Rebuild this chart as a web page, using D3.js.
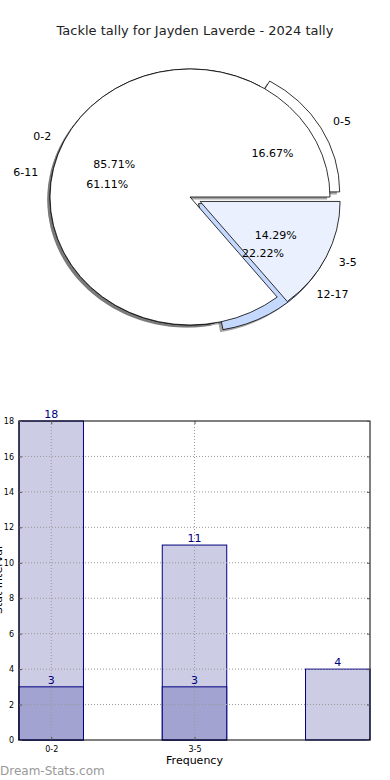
<!DOCTYPE html>
<html>
<head>
<meta charset="utf-8">
<script src="https://cdn.jsdelivr.net/npm/d3@7"></script>
<style>
  body { margin: 0; background: #fff; }
  svg { font-family: "DejaVu Sans", sans-serif; display: block; }
</style>
</head>
<body>
<div id="chart"></div>
<script>
// pie data (two overlaid pies)
var innerLabels = ['0-2', '3-5'];
var innerValues = [18, 3];
var innerExplode = [0, 0.08];
var innerColors = ['#ffffff', '#eaf0fe'];

var outerLabels = ['0-5', '6-11', '12-17'];
var outerValues = [3, 11, 4];
var outerExplode = [0.08, 0, 0.08];
var outerColors = ['#ffffff', '#ffffff', '#c5d8fd'];

// bar data
var barCategories = ['0-2', '3-5', ''];
var barLight = [18, 11, 4];
var barDark = [3, 3];
var yTicks = [0, 2, 4, 6, 8, 10, 12, 14, 16, 18];

var W = 390, H = 780;
var svg = d3.select('#chart').append('svg')
    .attr('width', W)
    .attr('height', H);

svg.append('text')
    .attr('x', 195).attr('y', 35)
    .attr('text-anchor', 'middle')
    .attr('font-size', 13)
    .attr('fill', '#222')
    .text('Tackle tally for Jayden Laverde - 2024 tally');

// ---- pie ----
var cx = 190, cy = 197, rx = 140, ry = 128;

// counterclockwise from east, like matplotlib
var pie = d3.pie().sort(null)
    .startAngle(Math.PI / 2)
    .endAngle(Math.PI / 2 - Math.PI * 2);

var arc = d3.arc().innerRadius(0).outerRadius(1);

function makeSlices(values, labels, explode, colors) {
    var total = d3.sum(values);
    return pie(values).map(function(d, i) {
        var mid = (d.startAngle + d.endAngle) / 2;
        return {
            d: d,
            label: labels[i],
            pct: (values[i] / total * 100).toFixed(2) + '%',
            ex: explode[i],
            color: colors[i],
            ux: Math.sin(mid),
            uy: -Math.cos(mid)
        };
    });
}

var outer = makeSlices(outerValues, outerLabels, outerExplode, outerColors);
var inner = makeSlices(innerValues, innerLabels, innerExplode, innerColors);
var all = outer.concat(inner);

var pieG = svg.append('g')
    .attr('transform', 'translate(' + cx + ',' + cy + ') scale(' + rx + ',' + ry + ')');

// shadows go under every wedge
pieG.selectAll('path.shadow')
    .data(all)
    .enter().append('path')
    .attr('class', 'shadow')
    .attr('transform', function(s) {
        return 'translate(' + (s.ex * s.ux - 0.02) + ',' + (s.ex * s.uy + 0.02) + ')';
    })
    .attr('d', function(s) { return arc(s.d); })
    .attr('fill', '#4d4d4d')
    .attr('opacity', 0.5);

function drawWedges(slices, cls) {
    pieG.selectAll('path.' + cls)
        .data(slices)
        .enter().append('path')
        .attr('class', cls)
        .attr('transform', function(s) {
            return 'translate(' + (s.ex * s.ux) + ',' + (s.ex * s.uy) + ')';
        })
        .attr('d', function(s) { return arc(s.d); })
        .attr('fill', function(s) { return s.color; })
        .attr('stroke', '#000')
        .attr('stroke-width', 0.8)
        .attr('vector-effect', 'non-scaling-stroke');
}
drawWedges(outer, 'outer');
drawWedges(inner, 'inner');

function drawLabels(slices) {
    slices.forEach(function(s) {
        var f = 1.1 + s.ex;
        var p = 0.6 + s.ex;
        svg.append('text')
            .attr('x', cx + f * rx * s.ux)
            .attr('y', cy + f * ry * s.uy)
            .attr('dy', '0.35em')
            .attr('text-anchor', s.ux >= 0 ? 'start' : 'end')
            .attr('font-size', 11)
            .attr('fill', '#000')
            .text(s.label);
        svg.append('text')
            .attr('x', cx + p * rx * s.ux)
            .attr('y', cy + p * ry * s.uy)
            .attr('dy', '0.35em')
            .attr('text-anchor', 'middle')
            .attr('font-size', 11)
            .attr('fill', '#000')
            .text(s.pct);
    });
}
drawLabels(outer);
drawLabels(inner);

// ---- bars ----
var plotL = 19, plotR = 370, plotT = 421, plotB = 740;
var bw = 0.45;
var x = d3.scaleLinear().domain([-bw / 2, 2 + bw / 2]).range([plotL, plotR]);
var y = d3.scaleLinear().domain([0, 18]).range([plotB, plotT]);

var barG = svg.append('g');

barG.selectAll('rect.light')
    .data(barLight)
    .enter().append('rect')
    .attr('class', 'light')
    .attr('x', function(d, i) { return x(i - bw / 2); })
    .attr('y', function(d) { return y(d); })
    .attr('width', function() { return x(bw) - x(0); })
    .attr('height', function(d) { return y(0) - y(d); })
    .attr('fill', '#cccce4')
    .attr('stroke', '#000080')
    .attr('stroke-width', 1);

barG.selectAll('rect.dark')
    .data(barDark)
    .enter().append('rect')
    .attr('class', 'dark')
    .attr('x', function(d, i) { return x(i - bw / 2); })
    .attr('y', function(d) { return y(d); })
    .attr('width', function() { return x(bw) - x(0); })
    .attr('height', function(d) { return y(0) - y(d); })
    .attr('fill', '#a3a3d1')
    .attr('stroke', '#000080')
    .attr('stroke-width', 1);

// grid on top of the bars
var gridG = svg.append('g');
gridG.selectAll('line.h')
    .data(yTicks.slice(1, -1))
    .enter().append('line')
    .attr('x1', plotL).attr('x2', plotR)
    .attr('y1', function(d) { return y(d); })
    .attr('y2', function(d) { return y(d); })
    .attr('stroke', '#999')
    .attr('stroke-width', 1)
    .attr('stroke-dasharray', '1,2');
gridG.selectAll('line.v')
    .data([0, 1])
    .enter().append('line')
    .attr('x1', function(d) { return x(d); })
    .attr('x2', function(d) { return x(d); })
    .attr('y1', plotT).attr('y2', plotB)
    .attr('stroke', '#999')
    .attr('stroke-width', 1)
    .attr('stroke-dasharray', '1,2');

// frame
svg.append('rect')
    .attr('x', plotL).attr('y', plotT)
    .attr('width', plotR - plotL).attr('height', plotB - plotT)
    .attr('fill', 'none')
    .attr('stroke', '#000')
    .attr('stroke-width', 1);

// axes with inward ticks
var yAxis = d3.axisLeft(y).tickValues(yTicks).tickSize(-3).tickPadding(5);
var yg = svg.append('g').attr('transform', 'translate(' + plotL + ',0)').call(yAxis);
yg.select('.domain').remove();
yg.selectAll('text').attr('font-size', 8).attr('font-family', 'DejaVu Sans, sans-serif').attr('fill', '#000');
yg.selectAll('line').attr('stroke', '#555');

var yAxisR = d3.axisRight(y).tickValues(yTicks).tickSize(-3).tickFormat('');
var ygr = svg.append('g').attr('transform', 'translate(' + plotR + ',0)').call(yAxisR);
ygr.select('.domain').remove();
ygr.selectAll('line').attr('stroke', '#555');

var xAxis = d3.axisBottom(x).tickValues([0, 1]).tickSize(-3).tickPadding(6)
    .tickFormat(function(d) { return barCategories[d]; });
var xg = svg.append('g').attr('transform', 'translate(0,' + plotB + ')').call(xAxis);
xg.select('.domain').remove();
xg.selectAll('text').attr('font-size', 8).attr('font-family', 'DejaVu Sans, sans-serif').attr('fill', '#000');
xg.selectAll('line').attr('stroke', '#555');

var xAxisT = d3.axisTop(x).tickValues([0, 1]).tickSize(-3).tickFormat('');
var xgt = svg.append('g').attr('transform', 'translate(0,' + plotT + ')').call(xAxisT);
xgt.select('.domain').remove();
xgt.selectAll('line').attr('stroke', '#555');

// value labels
svg.selectAll('text.vl')
    .data(barLight)
    .enter().append('text')
    .attr('class', 'vl')
    .attr('x', function(d, i) { return x(i); })
    .attr('y', function(d) { return y(d) - 3; })
    .attr('text-anchor', 'middle')
    .attr('font-size', 11)
    .attr('fill', '#000080')
    .text(function(d) { return d; });

svg.selectAll('text.vd')
    .data(barDark)
    .enter().append('text')
    .attr('class', 'vd')
    .attr('x', function(d, i) { return x(i); })
    .attr('y', function(d) { return y(d) - 3; })
    .attr('text-anchor', 'middle')
    .attr('font-size', 11)
    .attr('fill', '#000080')
    .text(function(d) { return d; });

svg.append('text')
    .attr('x', x(1)).attr('y', 764)
    .attr('text-anchor', 'middle')
    .attr('font-size', 11)
    .attr('fill', '#000')
    .text('Frequency');

svg.append('text')
    .attr('transform', 'translate(2,580) rotate(-90)')
    .attr('text-anchor', 'middle')
    .attr('font-size', 11)
    .attr('fill', '#000')
    .text('Stat Interval');

svg.append('text')
    .attr('x', 0).attr('y', 775)
    .attr('font-size', 12)
    .attr('fill', '#999')
    .text('Dream-Stats.com');
</script>
</body>
</html>
